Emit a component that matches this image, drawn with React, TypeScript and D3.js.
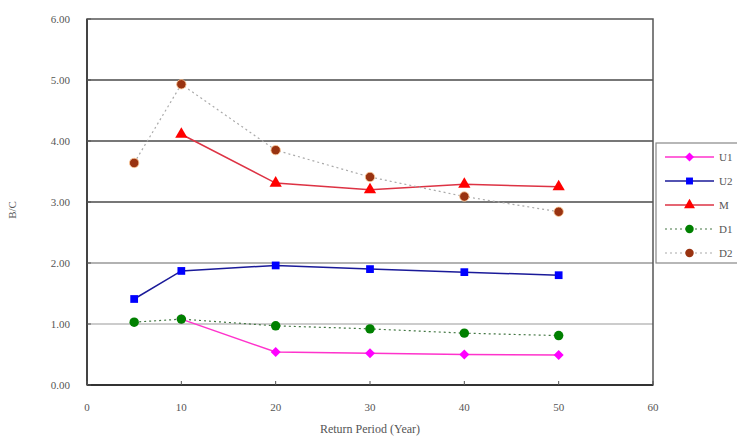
import React from "react";
import * as d3 from "d3";

const years = [5, 10, 20, 30, 40, 50];
const u1 = [null, 1.08, 0.54, 0.52, 0.5, 0.49];
const u2 = [1.41, 1.87, 1.96, 1.9, 1.85, 1.8];
const m = [null, 4.11, 3.31, 3.2, 3.29, 3.25];
const d1 = [1.03, 1.08, 0.97, 0.92, 0.85, 0.81];
const d2 = [3.64, 4.93, 3.85, 3.41, 3.09, 2.84];
const seriesNames = ["U1", "U2", "M", "D1", "D2"];
const yTicks = [0, 1, 2, 3, 4, 5, 6];
const xTicks = [0, 10, 20, 30, 40, 50, 60];

const W = 737, H = 439;
const L = 87, R = 653, T = 19, B = 385;

export default function App() {
  const x = d3.scaleLinear().domain([0, 60]).range([L, R]);
  const y = d3.scaleLinear().domain([0, 6]).range([B, T]);
  const all = [u1, u2, m, d1, d2];
  const styles = [
    { line: "#ff33cc", marker: "#ff00ff", shape: "diamond", dash: "", width: 1.5 },
    { line: "#1a1a99", marker: "#0000ff", shape: "square", dash: "", width: 1.5 },
    { line: "#dd3344", marker: "#ff0000", shape: "triangle", dash: "", width: 1.5 },
    { line: "#447744", marker: "#008000", shape: "circle", dash: "2,3", width: 1.2 },
    { line: "#aaaaaa", marker: "#993311", shape: "circle", dash: "2,3", width: 1.2 },
  ];
  const sym = (shape: string, size: number) => {
    const t =
      shape === "diamond" ? d3.symbolSquare :
      shape === "square" ? d3.symbolSquare :
      shape === "triangle" ? d3.symbolTriangle : d3.symbolCircle;
    return d3.symbol().type(t).size(size)() as string;
  };
  const sizeOf = (shape: string) =>
    shape === "circle" ? 70 : shape === "diamond" ? 50 : shape === "square" ? 60 : 65;
  const line = d3
    .line<[number, number | null]>()
    .defined((d) => d[1] !== null)
    .x((d) => x(d[0]))
    .y((d) => y(d[1] as number));

  const legX = 656, legY = 143, legH = 120, legStep = 24;

  return (
    <svg width={W} height={H} style={{ position: "absolute", left: 0, top: 0, fontFamily: "Liberation Serif, serif" }}>
      <rect x={0} y={0} width={W} height={H} fill="#fff" />
      {yTicks.filter((t) => t > 0 && t < 6).map((t) => (
        <line key={t} x1={L} x2={R} y1={y(t)} y2={y(t)}
          stroke={t >= 3 ? "#777" : t === 2 ? "#999" : "#bbb"} strokeWidth={t >= 3 ? 2 : 1.3} />
      ))}
      <rect x={L} y={T} width={R - L} height={B - T} fill="none" stroke="#555" strokeWidth={1.5} />
      <line x1={L} x2={R} y1={B} y2={B} stroke="#333" strokeWidth={2} />
      <line x1={L} x2={L} y1={T} y2={B} stroke="#444" strokeWidth={2} />
      {xTicks.map((t) => (
        <g key={t}>
          <line x1={x(t)} x2={x(t)} y1={B} y2={B - 4} stroke="#555" />
          <text x={x(t)} y={411} textAnchor="middle" fontSize={11} fill="#555">{t}</text>
        </g>
      ))}
      {yTicks.map((t) => (
        <g key={t}>
          <line x1={L} x2={L + 4} y1={y(t)} y2={y(t)} stroke="#555" />
          <text x={70} y={y(t) + 4} textAnchor="end" fontSize={11} fill="#555">{t.toFixed(2)}</text>
        </g>
      ))}
      <text x={370} y={433} textAnchor="middle" fontSize={12} fill="#555">Return Period (Year)</text>
      <text transform={`translate(16,${210}) rotate(-90)`} textAnchor="middle" fontSize={11} fill="#555">B/C</text>
      {all.map((s, i) => {
        const pts = years.map((yr, j) => [yr, s[j]] as [number, number | null]);
        const st = styles[i];
        return (
          <g key={i}>
            <path d={line(pts) as string} fill="none" stroke={st.line} strokeWidth={st.width} strokeDasharray={st.dash} />
            {pts.filter((p) => p[1] !== null).map((p, j) => (
              <path key={j} d={sym(st.shape, sizeOf(st.shape))}
                transform={`translate(${x(p[0])},${y(p[1] as number)})${st.shape === "diamond" ? " rotate(45)" : ""}`}
                fill={st.marker}
                stroke={i === 4 ? "#ffcc99" : "none"} strokeWidth={0.8} />
            ))}
          </g>
        );
      })}
      <rect x={legX} y={legY} width={W - legX + 5} height={legH} fill="#fff" stroke="#888" strokeWidth={1.2} />
      {seriesNames.map((n, i) => {
        const st = styles[i];
        const cy = legY + 14 + i * legStep;
        return (
          <g key={n}>
            <line x1={665} x2={714} y1={cy} y2={cy} stroke={st.line} strokeWidth={st.width} strokeDasharray={st.dash} />
            <path d={sym(st.shape, sizeOf(st.shape) * 0.8)}
              transform={`translate(689.5,${cy})${st.shape === "diamond" ? " rotate(45)" : ""}`} fill={st.marker} />
            <text x={719} y={cy + 4} fontSize={11} fill="#555">{n}</text>
          </g>
        );
      })}
    </svg>
  );
}
